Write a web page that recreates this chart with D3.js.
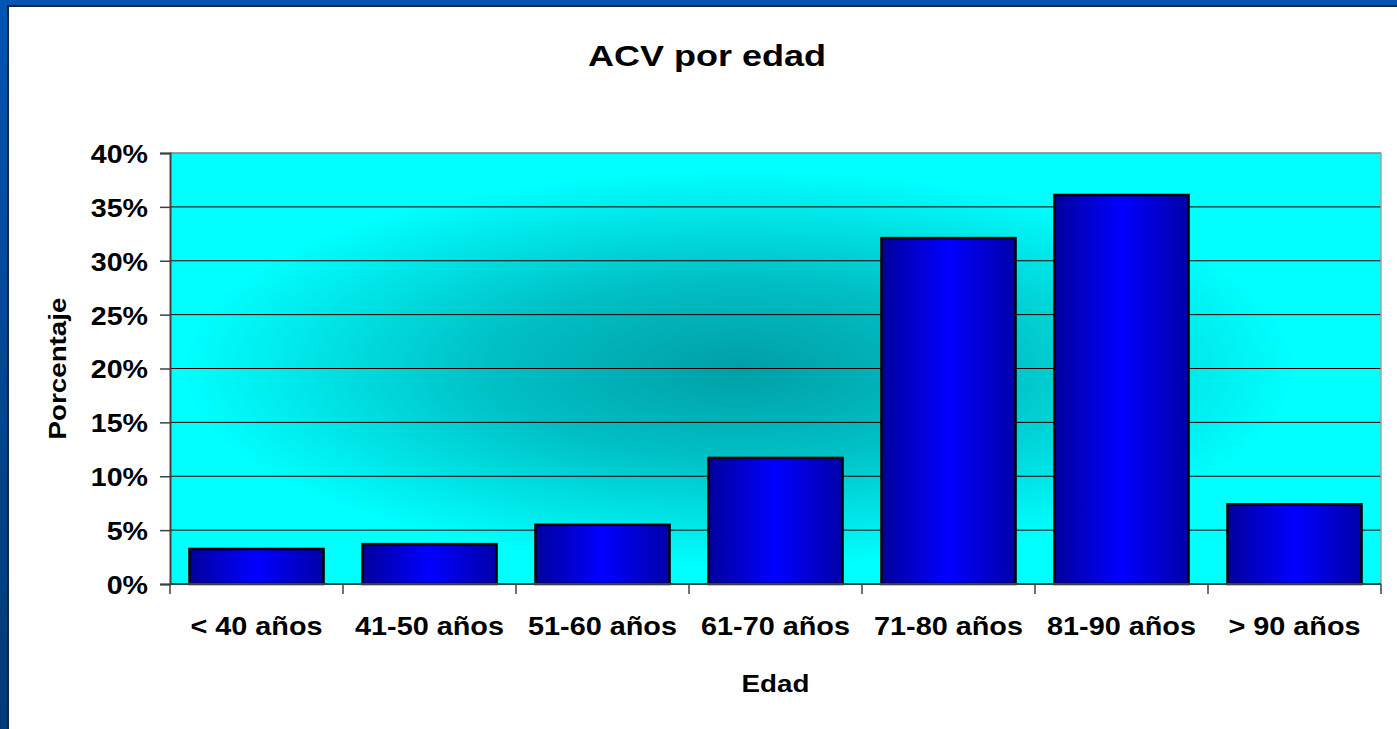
<!DOCTYPE html>
<html lang="es">
<head>
  <meta charset="UTF-8" />
  <title>ACV por edad</title>
  <script src="https://d3js.org/d3.v7.min.js"></script>
  <style>
    body {
      margin: 0;
      padding: 0;
      background: #ffffff;
      overflow: hidden;
    }
    svg {
      display: block;
    }
    text {
      font-family: "Liberation Sans", Arial, sans-serif;
      font-weight: bold;
      fill: #000000;
    }
  </style>
</head>
<body>
  <div id="chart"></div>

  <script>
    // data
    const categories = ["< 40 años", "41-50 años", "51-60 años", "61-70 años", "71-80 años", "81-90 años", "> 90 años"];
    const percentages = [3.25, 3.7, 5.5, 11.7, 32.1, 36.1, 7.4];
    const yTicks = [0, 5, 10, 15, 20, 25, 30, 35, 40];

    const width = 1397;
    const height = 729;
    const margin = { top: 153, right: 16, bottom: 145, left: 170 };
    const innerWidth = width - margin.left - margin.right;
    const innerHeight = height - margin.top - margin.bottom;

    // text in the original is drawn a bit wider than the font's natural width
    function widen(sel, factor) {
      sel.each(function () {
        const len = this.getComputedTextLength();
        d3.select(this)
          .attr("textLength", len * factor)
          .attr("lengthAdjust", "spacingAndGlyphs");
      });
    }

    const svg = d3.select("#chart")
      .append("svg")
      .attr("width", width)
      .attr("height", height);

    const defs = svg.append("defs");

    // plot area background: cyan with darker centre
    const bgGrad = defs.append("radialGradient")
      .attr("id", "plotBg")
      .attr("cx", 0.47).attr("cy", 0.5)
      .attr("r", 0.46);
    bgGrad.append("stop").attr("offset", 0).attr("stop-color", "#009fa6");
    bgGrad.append("stop").attr("offset", 0.45).attr("stop-color", "#00c0c5");
    bgGrad.append("stop").attr("offset", 1).attr("stop-color", "#00ffff");

    // bar fill: dark edges, bright middle
    const barGrad = defs.append("linearGradient")
      .attr("id", "barFill")
      .attr("x1", 0).attr("x2", 1).attr("y1", 0).attr("y2", 0);
    barGrad.append("stop").attr("offset", 0).attr("stop-color", "#00009c");
    barGrad.append("stop").attr("offset", 0.5).attr("stop-color", "#0000ff");
    barGrad.append("stop").attr("offset", 1).attr("stop-color", "#0000a8");

    const frameGrad = defs.append("linearGradient")
      .attr("id", "frameFill")
      .attr("x1", 0).attr("x2", 0).attr("y1", 0).attr("y2", 1);
    frameGrad.append("stop").attr("offset", 0).attr("stop-color", "#0055b0");
    frameGrad.append("stop").attr("offset", 1).attr("stop-color", "#003a78");

    // slide frame (blue strip top and left)
    svg.append("rect").attr("x", 0).attr("y", 0).attr("width", width).attr("height", 5).attr("fill", "#0055b0");
    svg.append("rect").attr("x", 0).attr("y", 0).attr("width", 7).attr("height", height).attr("fill", "url(#frameFill)");
    svg.append("rect").attr("x", 7).attr("y", 5).attr("width", width - 7).attr("height", 2).attr("fill", "#15253a");
    svg.append("rect").attr("x", 7).attr("y", 5).attr("width", 2).attr("height", height - 5).attr("fill", "#15253a");

    const g = svg.append("g")
      .attr("transform", `translate(${margin.left},${margin.top})`);

    const x = d3.scaleBand()
      .domain(categories)
      .range([0, innerWidth])
      .paddingInner(0.225)
      .paddingOuter(0.1125);

    const y = d3.scaleLinear()
      .domain([0, 40])
      .range([innerHeight, 0]);

    g.append("rect")
      .attr("width", innerWidth)
      .attr("height", innerHeight)
      .attr("fill", "url(#plotBg)");

    // gridlines
    g.selectAll(".grid")
      .data(yTicks.filter(t => t > 0 && t < 40))
      .enter()
      .append("line")
      .attr("x1", 0).attr("x2", innerWidth)
      .attr("y1", d => y(d)).attr("y2", d => y(d))
      .attr("stroke", "#000000")
      .attr("stroke-width", 1);

    // plot border top/right
    g.append("line").attr("x1", 0).attr("x2", innerWidth).attr("y1", 0).attr("y2", 0)
      .attr("stroke", "#808080").attr("stroke-width", 1.5);
    g.append("line").attr("x1", innerWidth).attr("x2", innerWidth).attr("y1", 0).attr("y2", innerHeight)
      .attr("stroke", "#a0a0a0").attr("stroke-width", 1.5);

    // bars
    g.selectAll(".bar")
      .data(percentages)
      .enter()
      .append("rect")
      .attr("x", (d, i) => x(categories[i]))
      .attr("y", d => y(d))
      .attr("width", x.bandwidth())
      .attr("height", d => y(0) - y(d))
      .attr("fill", "url(#barFill)")
      .attr("stroke", "#000000")
      .attr("stroke-width", 2.5);

    // y axis
    const yAxis = g.append("g")
      .call(d3.axisLeft(y).tickValues(yTicks).tickFormat(d => d + "%").tickSize(10).tickPadding(12));
    yAxis.select(".domain").attr("stroke", "#404040").attr("stroke-width", 2);
    yAxis.selectAll(".tick line").attr("stroke", "#404040").attr("stroke-width", 1.5);
    yAxis.selectAll(".tick text")
      .style("font-size", "26px")
      .attr("dy", "0.36em")
      .call(widen, 1.1);

    // x axis: ticks between categories
    const xAxisG = g.append("g").attr("transform", `translate(0,${innerHeight})`);
    xAxisG.append("line")
      .attr("x1", 0).attr("x2", innerWidth)
      .attr("stroke", "#404040").attr("stroke-width", 2);
    const step = x.step();
    const bounds = d3.range(categories.length + 1).map(i => x.range()[0] + i * step);
    xAxisG.selectAll(".xtick")
      .data(bounds)
      .enter()
      .append("line")
      .attr("x1", d => d).attr("x2", d => d)
      .attr("y1", 0).attr("y2", 10)
      .attr("stroke", "#404040").attr("stroke-width", 1.5);
    xAxisG.selectAll(".xlabel")
      .data(categories)
      .enter()
      .append("text")
      .attr("text-anchor", "middle")
      .attr("x", d => x(d) + x.bandwidth() / 2)
      .attr("y", 51)
      .style("font-size", "25.5px")
      .text(d => d)
      .call(widen, 1.13);

    // axis titles
    svg.append("text")
      .attr("text-anchor", "middle")
      .attr("x", margin.left + innerWidth / 2)
      .attr("y", margin.top + innerHeight + 108)
      .style("font-size", "23.5px")
      .text("Edad")
      .call(widen, 1.18);

    svg.append("text")
      .attr("text-anchor", "middle")
      .attr("transform", `translate(66,${margin.top + innerHeight / 2}) rotate(-90)`)
      .style("font-size", "23.5px")
      .text("Porcentaje")
      .call(widen, 1.18);

    // title
    svg.append("text")
      .attr("text-anchor", "middle")
      .attr("x", 707)
      .attr("y", 66)
      .style("font-size", "30px")
      .text("ACV por edad")
      .call(widen, 1.2);
  </script>
</body>
</html>
